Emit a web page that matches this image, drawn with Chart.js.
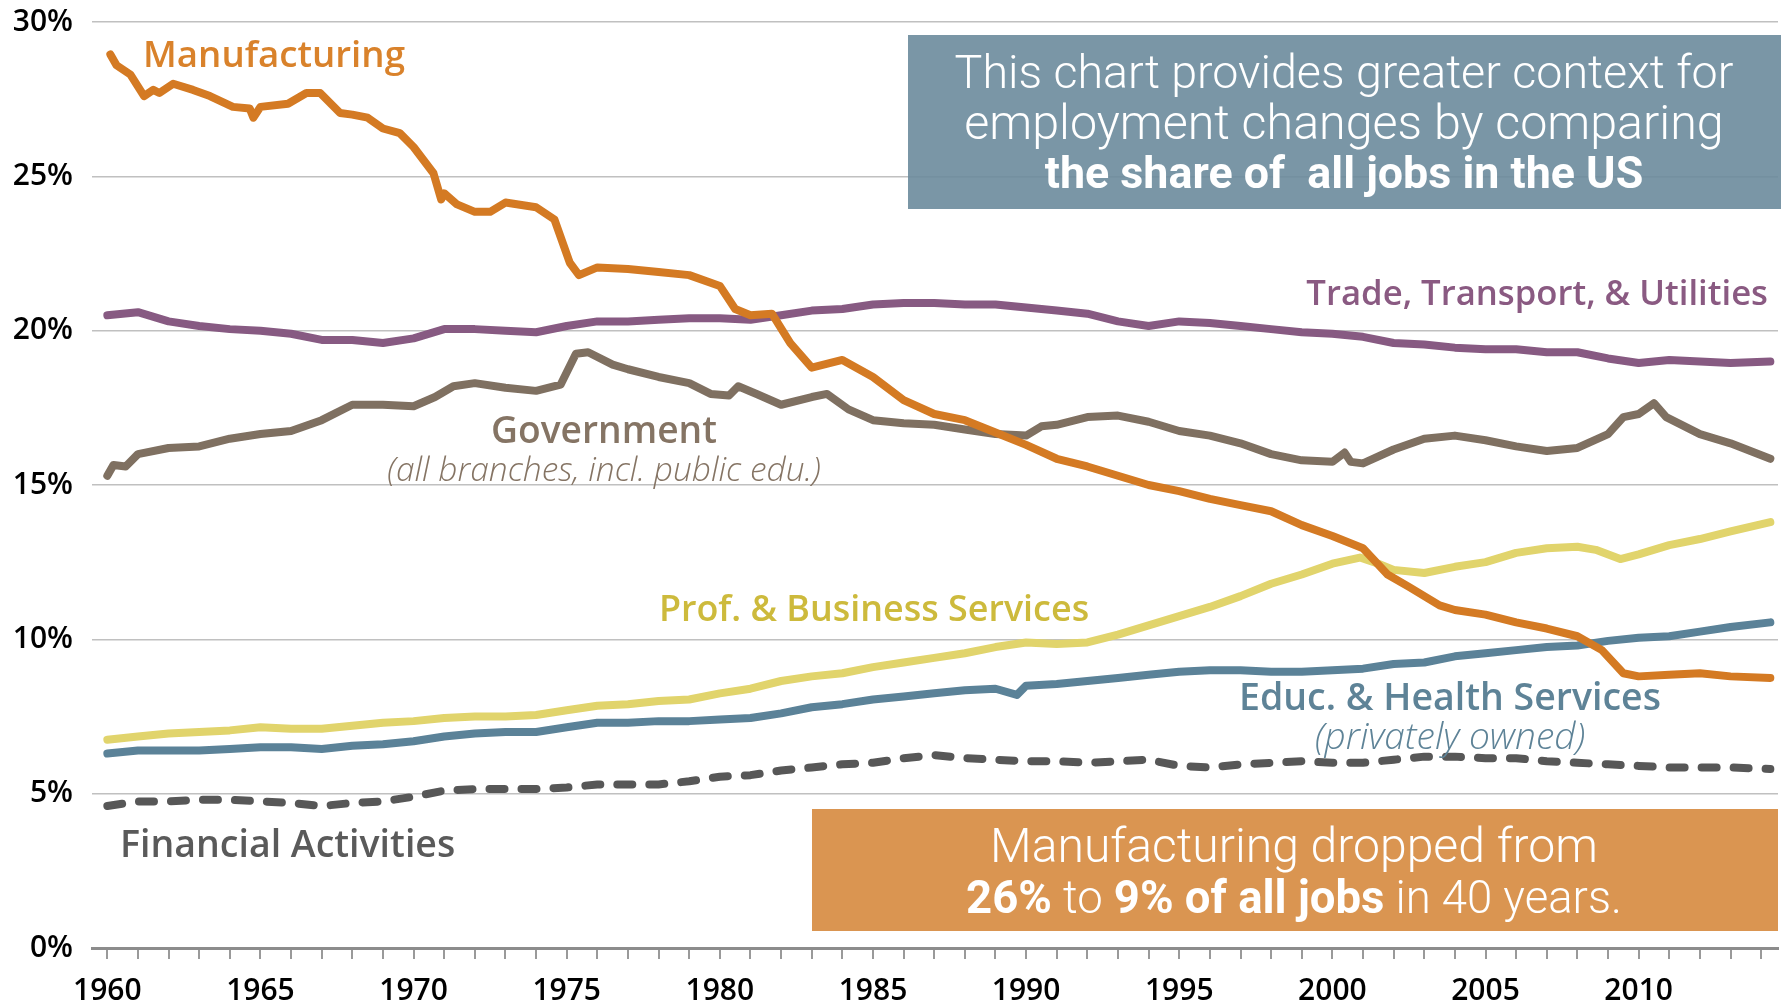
<!DOCTYPE html>
<html>
<head>
<meta charset="utf-8">
<title>Share of all US jobs by sector</title>
<script src="https://cdn.jsdelivr.net/npm/chart.js@4.4.0/dist/chart.umd.min.js"></script>
<style>
  html, body { margin: 0; padding: 0; background: #fff; }
  #chart { display: block; }
</style>
</head>
<body>
<canvas id="chart" width="1789" height="1006"></canvas>
<script>
// share of all US jobs, percent.
var years = [1960, 1961, 1962, 1963, 1964, 1965, 1966, 1967, 1968, 1969,
             1970, 1971, 1972, 1973, 1974, 1975, 1976, 1977, 1978, 1979,
             1980, 1981, 1982, 1983, 1984, 1985, 1986, 1987, 1988, 1989,
             1990, 1991, 1992, 1993, 1994, 1995, 1996, 1997, 1998, 1999,
             2000, 2001, 2002, 2003, 2004, 2005, 2006, 2007, 2008, 2009,
             2010, 2011, 2012, 2013, 2014.3];

var mfgYears = [1960.1, 1960.3, 1960.75, 1961.2, 1961.5, 1961.7, 1962.15, 1962.8, 1963.35, 1964.1,
                1964.65, 1964.77, 1965.0, 1965.9, 1966.5, 1966.95, 1967.6, 1968.0, 1968.5, 1969.0,
                1969.55, 1970.0, 1970.65, 1970.9, 1971.0, 1971.4, 1972.0, 1972.5, 1973, 1974,
                1974.6, 1975.1, 1975.4, 1976, 1977, 1978, 1979, 1980, 1980.5, 1981,
                1981.7, 1982.3, 1983, 1984, 1985, 1986, 1987, 1988, 1989, 1990,
                1991, 1992, 1993, 1994, 1995, 1996, 1997, 1998, 1999, 2000,
                2001, 2001.8, 2002.5, 2003.5, 2004, 2005, 2006, 2007, 2008, 2008.8,
                2009.5, 2010, 2011, 2012, 2013, 2014.3];
var manufacturing = [28.95, 28.6, 28.3, 27.6, 27.8, 27.7, 28.0, 27.8, 27.6, 27.25,
                     27.2, 26.9, 27.25, 27.35, 27.7, 27.7, 27.05, 27.0, 26.9, 26.55,
                     26.4, 25.95, 25.1, 24.25, 24.45, 24.1, 23.85, 23.85, 24.15, 24.0,
                     23.6, 22.2, 21.8, 22.05, 22.0, 21.9, 21.8, 21.45, 20.7, 20.5,
                     20.55, 19.6, 18.8, 19.05, 18.5, 17.75, 17.3, 17.1, 16.7, 16.3,
                     15.85, 15.6, 15.3, 15.0, 14.8, 14.55, 14.35, 14.15, 13.7, 13.35,
                     12.95, 12.1, 11.7, 11.1, 10.95, 10.8, 10.55, 10.35, 10.1, 9.65,
                     8.9, 8.8, 8.85, 8.9, 8.8, 8.75];

var trade = [20.5, 20.6, 20.3, 20.15, 20.05, 20.0, 19.9, 19.7, 19.7, 19.6,
             19.75, 20.05, 20.05, 20.0, 19.95, 20.15, 20.3, 20.3, 20.35, 20.4,
             20.4, 20.35, 20.5, 20.65, 20.7, 20.85, 20.9, 20.9, 20.85, 20.85,
             20.75, 20.65, 20.55, 20.3, 20.15, 20.3, 20.25, 20.15, 20.05, 19.95,
             19.9, 19.8, 19.6, 19.55, 19.45, 19.4, 19.4, 19.3, 19.3, 19.1,
             18.95, 19.05, 19.0, 18.95, 19.0];

var govYears = [1960, 1960.2, 1960.6, 1961, 1962, 1963, 1964, 1965, 1966, 1967,
                1968, 1969, 1970, 1970.7, 1971.3, 1972, 1973, 1974, 1974.8, 1975.3,
                1975.7, 1976.5, 1977, 1978, 1979, 1979.7, 1980.3, 1980.6, 1981.2, 1982,
                1983, 1983.5, 1984.2, 1985, 1986, 1987, 1988, 1989, 1990, 1990.5,
                1991, 1992, 1993, 1994, 1995, 1996, 1997, 1998, 1999, 2000,
                2000.4, 2000.6, 2001, 2002, 2003, 2004, 2005, 2006, 2007, 2008,
                2009, 2009.5, 2010, 2010.5, 2010.9, 2011.5, 2012, 2013, 2014.3];
var government = [15.3, 15.65, 15.6, 16.0, 16.2, 16.25, 16.5, 16.65, 16.75, 17.1,
                  17.6, 17.6, 17.55, 17.85, 18.2, 18.3, 18.15, 18.05, 18.25, 19.25,
                  19.3, 18.9, 18.75, 18.5, 18.3, 17.95, 17.9, 18.2, 17.95, 17.6,
                  17.85, 17.95, 17.45, 17.1, 17.0, 16.95, 16.8, 16.65, 16.6, 16.9,
                  16.95, 17.2, 17.25, 17.05, 16.75, 16.6, 16.35, 16.0, 15.8, 15.75,
                  16.05, 15.75, 15.7, 16.15, 16.5, 16.6, 16.45, 16.25, 16.1, 16.2,
                  16.65, 17.2, 17.3, 17.65, 17.2, 16.9, 16.65, 16.35, 15.85];

var profYears = [1960, 1961, 1962, 1963, 1964, 1965, 1966, 1967, 1968, 1969,
                 1970, 1971, 1972, 1973, 1974, 1975, 1976, 1977, 1978, 1979,
                 1980, 1981, 1982, 1983, 1984, 1985, 1986, 1987, 1988, 1989,
                 1990, 1991, 1992, 1993, 1994, 1995, 1996, 1997, 1998, 1999,
                 2000, 2000.9, 2001.5, 2002, 2003, 2004, 2005, 2006, 2007, 2008,
                 2008.6, 2009.4, 2010, 2011, 2012, 2013, 2014.3];
var profBusiness = [6.75, 6.85, 6.95, 7.0, 7.05, 7.15, 7.1, 7.1, 7.2, 7.3,
                    7.35, 7.45, 7.5, 7.5, 7.55, 7.7, 7.85, 7.9, 8.0, 8.05,
                    8.25, 8.4, 8.65, 8.8, 8.9, 9.1, 9.25, 9.4, 9.55, 9.75,
                    9.9, 9.85, 9.9, 10.15, 10.45, 10.75, 11.05, 11.4, 11.8, 12.1,
                    12.45, 12.65, 12.45, 12.25, 12.15, 12.35, 12.5, 12.8, 12.95, 13.0,
                    12.9, 12.6, 12.75, 13.05, 13.25, 13.5, 13.8];

var eduYears = [1960, 1961, 1962, 1963, 1964, 1965, 1966, 1967, 1968, 1969,
                1970, 1971, 1972, 1973, 1974, 1975, 1976, 1977, 1978, 1979,
                1980, 1981, 1982, 1983, 1984, 1985, 1986, 1987, 1988, 1989,
                1989.7, 1990, 1991, 1992, 1993, 1994, 1995, 1996, 1997, 1998,
                1999, 2000, 2001, 2002, 2003, 2004, 2005, 2006, 2007, 2008,
                2009, 2010, 2011, 2012, 2013, 2014.3];
var eduHealth = [6.3, 6.4, 6.4, 6.4, 6.45, 6.5, 6.5, 6.45, 6.55, 6.6,
                 6.7, 6.85, 6.95, 7.0, 7.0, 7.15, 7.3, 7.3, 7.35, 7.35,
                 7.4, 7.45, 7.6, 7.8, 7.9, 8.05, 8.15, 8.25, 8.35, 8.4,
                 8.2, 8.5, 8.55, 8.65, 8.75, 8.85, 8.95, 9.0, 9.0, 8.95,
                 8.95, 9.0, 9.05, 9.2, 9.25, 9.45, 9.55, 9.65, 9.75, 9.8,
                 9.95, 10.05, 10.1, 10.25, 10.4, 10.55];

var financial = [4.6, 4.75, 4.75, 4.8, 4.8, 4.75, 4.7, 4.6, 4.7, 4.75,
                 4.9, 5.1, 5.15, 5.15, 5.15, 5.2, 5.3, 5.3, 5.3, 5.4,
                 5.55, 5.6, 5.75, 5.85, 5.95, 6.0, 6.15, 6.25, 6.15, 6.1,
                 6.05, 6.05, 6.0, 6.05, 6.1, 5.9, 5.85, 5.95, 6.0, 6.05,
                 6.0, 6.0, 6.1, 6.2, 6.2, 6.15, 6.15, 6.05, 6.0, 5.95,
                 5.9, 5.85, 5.85, 5.85, 5.8];

var yLabels = [0, 5, 10, 15, 20, 25, 30];
var xLabels = [1960, 1965, 1970, 1975, 1980, 1985, 1990, 1995, 2000, 2005, 2010];
var tickYears = [];
for (var t = 1960; t <= 2014; t++) tickYears.push(t);

function pts(xs, ys) {
    return xs.map(function (x, i) { return {x: x, y: ys[i]}; });
}

var labelFont = '"Open Sans", "Noto Sans", sans-serif';
var boxFont = 'Roboto, "Open Sans", sans-serif';

function fitFont(ctx, text, weight, family, width) {
    ctx.font = weight + ' 100px ' + family;
    var size = 100 * width / ctx.measureText(text).width;
    return weight + ' ' + size.toFixed(1) + 'px ' + family;
}

// runs of [text, bold], centred on cx and stretched to the given width
function drawRuns(ctx, runs, cx, cy, width, color) {
    var fontFor = function (b, s) { return (b ? '700 ' : '300 ') + s + 'px ' + boxFont; };
    var total = 0;
    runs.forEach(function (r) { ctx.font = fontFor(r[1], 100); total += ctx.measureText(r[0]).width; });
    var size = (100 * width / total).toFixed(1);
    var widths = runs.map(function (r) { ctx.font = fontFor(r[1], size); return ctx.measureText(r[0]).width; });
    var sum = widths.reduce(function (a, b) { return a + b; }, 0);
    var x = cx - sum / 2;
    ctx.textAlign = 'left';
    ctx.textBaseline = 'middle';
    ctx.fillStyle = color;
    runs.forEach(function (r, i) {
        ctx.font = fontFor(r[1], size);
        ctx.fillText(r[0], x, cy);
        x += widths[i];
    });
}

var seriesLabels = [
    {text: 'Manufacturing', color: '#D9822B', x: 143, y: 57, w: 262, align: 'left', weight: '600'},
    {text: 'Trade, Transport, & Utilities', color: '#8A5A82', x: 1768, y: 295, w: 462, align: 'right', weight: '600'},
    {text: 'Government', color: '#857464', x: 604, y: 432, w: 226, align: 'center', weight: '600'},
    {text: '(all branches, incl. public edu.)', color: '#857464', x: 604, y: 471, w: 434, align: 'center', weight: 'italic 300'},
    {text: 'Prof. & Business Services', color: '#CDBA3C', x: 874, y: 611, w: 430, align: 'center', weight: '600'},
    {text: 'Educ. & Health Services', color: '#5E8397', x: 1450, y: 699, w: 422, align: 'center', weight: '600'},
    {text: '(privately owned)', color: '#5E8397', x: 1450, y: 738, w: 270, align: 'center', weight: 'italic 300'},
    {text: 'Financial Activities', color: '#5A5A5A', x: 120, y: 846, w: 335, align: 'left', weight: '600'}
];

var notes = {
    id: 'notes',
    beforeDatasetsDraw: function (chart) {
        var ctx = chart.ctx;
        ctx.save();
        ctx.fillStyle = 'rgba(107, 139, 156, 0.9)';
        ctx.fillRect(908, 35, 873, 174);
        drawRuns(ctx, [['This chart provides greater context for', false]], 1344, 76, 779, '#fff');
        drawRuns(ctx, [['employment changes by comparing', false]], 1344, 127, 760, '#fff');
        drawRuns(ctx, [['the share of  all jobs in the US', true]], 1344, 177, 598, '#fff');

        ctx.fillStyle = 'rgba(214, 137, 62, 0.9)';
        ctx.fillRect(812, 809, 966, 122);
        drawRuns(ctx, [['Manufacturing dropped from', false]], 1294, 850, 608, '#fff');
        drawRuns(ctx, [['26%', true], [' to ', false], ['9% of all jobs', true], [' in 40 years.', false]], 1294, 902, 656, '#fff');
        ctx.restore();
    },
    afterDraw: function (chart) {
        var ctx = chart.ctx;
        ctx.save();
        ctx.textBaseline = 'middle';
        seriesLabels.forEach(function (l) {
            ctx.font = fitFont(ctx, l.text, l.weight, labelFont, l.w);
            ctx.fillStyle = l.color;
            ctx.textAlign = l.align;
            ctx.fillText(l.text, l.x, l.y);
        });
        ctx.restore();
    }
};

function lineSet(label, data, color) {
    return {
        label: label,
        data: data,
        borderColor: color,
        backgroundColor: color,
        borderWidth: 8,
        borderCapStyle: 'round',
        borderJoinStyle: 'round',
        pointRadius: 0,
        tension: 0,
        fill: false
    };
}

var finSet = lineSet('Financial Activities', pts(years, financial), '#575757');
finSet.borderDash = [15, 17];

new Chart(document.getElementById('chart').getContext('2d'), {
    type: 'line',
    data: {
        datasets: [
            lineSet('Manufacturing', pts(mfgYears, manufacturing), '#D47A23'),
            lineSet('Trade, Transport, & Utilities', pts(years, trade), '#875A82'),
            lineSet('Government', pts(govYears, government), '#7F7061'),
            lineSet('Prof. & Business Services', pts(profYears, profBusiness), '#E1D46C'),
            lineSet('Educ. & Health Services', pts(eduYears, eduHealth), '#5B8298'),
            finSet
        ]
    },
    options: {
        responsive: false,
        devicePixelRatio: 1,
        animation: false,
        layout: {padding: {top: 22, right: 11, left: 0, bottom: 0}},
        plugins: {
            legend: {display: false},
            tooltip: {enabled: false}
        },
        scales: {
            x: {
                type: 'linear',
                min: 1959.5,
                max: 2014.55,
                afterBuildTicks: function (scale) {
                    scale.ticks = tickYears.map(function (v) { return {value: v}; });
                },
                afterFit: function (scale) { scale.height = 58; },
                grid: {
                    display: true,
                    drawOnChartArea: false,
                    drawTicks: true,
                    tickLength: 11,
                    color: '#9a9a9a',
                    lineWidth: 2
                },
                border: {display: true, color: '#8c8c8c', width: 3},
                ticks: {
                    autoSkip: false,
                    maxRotation: 0,
                    padding: 14,
                    color: '#000',
                    font: {family: labelFont, size: 30, weight: '600'},
                    callback: function (v) { return xLabels.indexOf(v) >= 0 ? String(v) : ''; }
                }
            },
            y: {
                min: 0,
                max: 30,
                afterBuildTicks: function (scale) {
                    scale.ticks = yLabels.map(function (v) { return {value: v}; });
                },
                afterFit: function (scale) {
                    scale.width = 92;
                    // keep the plot top at the 22px padding
                    scale.paddingTop = 0;
                    scale.paddingBottom = 0;
                },
                grid: {color: '#c0c0c0', lineWidth: 1.5, drawTicks: false},
                border: {display: false},
                ticks: {
                    padding: 19,
                    color: '#000',
                    font: {family: labelFont, size: 30, weight: '600'},
                    callback: function (v) { return v + '%'; }
                }
            }
        }
    },
    plugins: [notes]
});
</script>
</body>
</html>
